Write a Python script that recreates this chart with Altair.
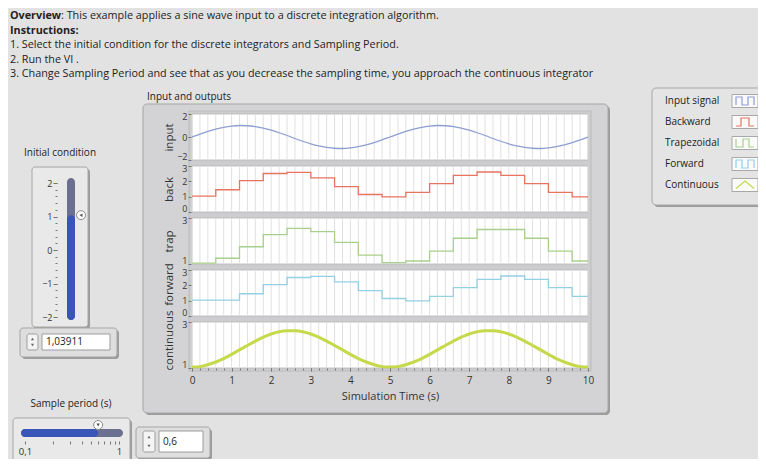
import altair as alt
import pandas as pd

# ---------------- data ----------------
t_fine = [0.0, 0.2, 0.4, 0.6, 0.8, 1.0, 1.2, 1.4, 1.6, 1.8, 2.0, 2.2, 2.4, 2.6, 2.8,
          3.0, 3.2, 3.4, 3.6, 3.8, 4.0, 4.2, 4.4, 4.6, 4.8, 5.0, 5.2, 5.4, 5.6, 5.8,
          6.0, 6.2, 6.4, 6.6, 6.8, 7.0, 7.2, 7.4, 7.6, 7.8, 8.0, 8.2, 8.4, 8.6, 8.8,
          9.0, 9.2, 9.4, 9.6, 9.8, 10.0]
input_signal = [0.0, 0.25, 0.48, 0.68, 0.84, 0.95, 1.0, 0.98, 0.9, 0.77, 0.59, 0.37, 0.13,
                -0.13, -0.37, -0.59, -0.77, -0.9, -0.98, -1.0, -0.95, -0.84, -0.68, -0.48, -0.25,
                0.0, 0.25, 0.48, 0.68, 0.84, 0.95, 1.0, 0.98, 0.9, 0.77, 0.59, 0.37, 0.13,
                -0.13, -0.37, -0.59, -0.77, -0.9, -0.98, -1.0, -0.95, -0.84, -0.68, -0.48, -0.25, 0.0]
continuous = [1.04, 1.06, 1.14, 1.26, 1.41, 1.59, 1.79, 1.98, 2.17, 2.34, 2.48, 2.58, 2.62,
              2.62, 2.58, 2.48, 2.34, 2.17, 1.98, 1.79, 1.59, 1.41, 1.26, 1.14, 1.06,
              1.04, 1.06, 1.14, 1.26, 1.41, 1.59, 1.79, 1.98, 2.17, 2.34, 2.48, 2.58, 2.62,
              2.62, 2.58, 2.48, 2.34, 2.17, 1.98, 1.79, 1.59, 1.41, 1.26, 1.14, 1.06, 1.04]
t_step = [0.0, 0.6, 1.2, 1.8, 2.4, 3.0, 3.6, 4.2, 4.8, 5.4, 6.0, 6.6, 7.2, 7.8, 8.4, 9.0, 9.6, 10.0]
backward = [1.04, 1.45, 2.05, 2.51, 2.59, 2.23, 1.65, 1.14, 0.99, 1.28, 1.85, 2.39, 2.61, 2.39, 1.85, 1.28, 0.99, 0.99]
trapezoidal = [1.04, 1.25, 1.75, 2.28, 2.55, 2.41, 1.94, 1.39, 1.06, 1.13, 1.56, 2.12, 2.50, 2.50, 2.12, 1.56, 1.13, 1.13]
forward = [1.04, 1.04, 1.45, 2.05, 2.51, 2.59, 2.23, 1.65, 1.14, 0.99, 1.28, 1.85, 2.39, 2.61, 2.39, 1.85, 1.28, 1.28]
x_ticks = [0, 1, 2, 3, 4, 5, 6, 7, 8, 9, 10]
init_condition = 1.03911
sample_period = 0.6
legend_names = ["Input signal", "Backward", "Trapezoidal", "Forward", "Continuous"]
legend_colors = ["#8d9ed3", "#e8735f", "#a9cf8c", "#93d0e3", "#c5d94a"]

FONT = "Open Sans"
W, H = 750, 451


def P(v):
    return v - 8


one = pd.DataFrame({"k": [0]})
layers = []


def rect(x1, y1, x2, y2, **kw):
    return alt.Chart(one).mark_rect(**kw).encode(
        x=alt.value(P(x1)), x2=alt.value(P(x2)), y=alt.value(P(y1)), y2=alt.value(P(y2)))


def text(s, x, y, **kw):
    st = dict(font=FONT, fontSize=10, color="#222", align="left", baseline="middle")
    st.update(kw)
    return alt.Chart(one).mark_text(text=s, **st).encode(x=alt.value(P(x)), y=alt.value(P(y)))


def framed(x1, y1, x2, y2, fill, r=3):
    return [rect(x1 + 2, y1 + 2, x2 + 2, y2 + 2, fill="#9c9c9c", cornerRadius=r),
            rect(x1, y1, x2, y2, fill=fill, stroke="#a6a6a6", strokeWidth=1, cornerRadius=r)]


# ---------------- header text ----------------
HF = 10.8
layers += [
    text("Overview", 10, 16, fontWeight="bold", fontSize=HF),
    text(": This example applies a sine wave input to a discrete integration algorithm.", 61, 16, fontSize=HF),
    text("Instructions:", 10, 30.5, fontWeight="bold", fontSize=HF),
    text("1. Select the initial condition for the discrete integrators and Sampling Period.", 10, 45, fontSize=HF),
    text("2. Run the VI .", 10, 59.5, fontSize=HF),
    text("3. Change Sampling Period and see that as you decrease the sampling time, you approach the continuous integrator", 10, 74, fontSize=HF),
]

# ---------------- graph frame ----------------
layers += framed(143, 104, 608, 413, "#d3d3d5", r=4)
layers.append(text("Input and outputs", 147, 97))
layers.append(rect(189, 111, 591, 371, fill="#cdcdd0", stroke="#bcbcbc", strokeWidth=1))

xs = alt.Scale(domain=[0, 10], range=[P(192), P(588)], nice=False, zero=False)
PH = 46
AXIS_X = 191
panels = [
    ("input", t_fine, input_signal, [-2, 2], [-2, 0, 2], 114, 137, legend_colors[0], "monotone", 1.3),
    ("back", t_step, backward, [0, 3], [0, 1, 2, 3], 166, 189, legend_colors[1], "step-after", 1.3),
    ("trap", t_step, trapezoidal, [1, 3], [1, 2, 3], 218, 241, legend_colors[2], "step-after", 1.3),
    ("forward", t_step, forward, [0, 3], [0, 1, 2, 3], 270, 284, legend_colors[3], "step-after", 1.3),
    ("continuous", t_fine, continuous, [1, 3], [1, 2, 3], 322, 340, legend_colors[4], "monotone", 3),
]
for name, tt, vv, dom, ticks, top, title_y, col, interp, sw in panels:
    ys = alt.Scale(domain=dom, range=[P(top + PH), P(top)], nice=False, zero=False)
    yaxis = alt.Axis(orient="left", offset=-P(AXIS_X), values=ticks, title=name, tickSize=3, format="d",
                     labelFontSize=9, titleFontSize=11.5, titleFontWeight="normal",
                     titleX=-17, titleY=P(title_y), titleAngle=270, titleBaseline="bottom", titleAlign="center",
                     labelPadding=1, domain=False, grid=False, labelOverlap=False, labelFlush=True,
                     labelFlushOffset=1.5, zindex=2)
    layers.append(alt.Chart(one).mark_rect(fill="white", stroke="#b4b4b4", strokeWidth=0.8).encode(
        x=alt.XDatum(0, type="quantitative", scale=xs, axis=None), x2=alt.X2Datum(10),
        y=alt.YDatum(dom[0], type="quantitative", scale=ys, axis=yaxis), y2=alt.Y2Datum(dom[1])))
    layers.append(alt.Chart(alt.sequence(0, 10.05, 0.2, as_="g")).mark_rule(color="#e1e1e1", strokeWidth=1).encode(
        x=alt.X("g:Q", scale=xs, axis=None),
        y=alt.YDatum(dom[0], type="quantitative", scale=ys, axis=None), y2=alt.Y2Datum(dom[1])))
    df = pd.DataFrame({"t": tt, "v": vv})
    layers.append(alt.Chart(df).mark_line(color=col, strokeWidth=sw, interpolate=interp).encode(
        x=alt.X("t:Q", scale=xs, axis=None), y=alt.Y("v:Q", scale=ys, axis=None)))

x_off = P(368) - H
layers.append(alt.Chart(one).mark_point(opacity=0).encode(
    x=alt.XDatum(0, type="quantitative", scale=xs,
                 axis=alt.Axis(orient="bottom", offset=x_off, values=x_ticks, title="Simulation Time (s)",
                               tickSize=3, labelFontSize=10, titleFontSize=11, titleFontWeight="normal",
                               titlePadding=5, labelPadding=4, domain=False, grid=False, labelFlush=False,
                               format="d", zindex=2)),
    y=alt.value(0)))
layers.append(alt.Chart(one).mark_point(opacity=0).encode(
    x=alt.XDatum(0, type="quantitative", scale=xs,
                 axis=alt.Axis(orient="bottom", offset=x_off, values=[v / 5 for v in range(51)],
                               title=None, labels=False, tickSize=2, domain=False, grid=False, zindex=2)),
    y=alt.value(0)))

# ---------------- initial condition slider ----------------
layers.append(text("Initial condition", 60, 153, align="center"))
layers += framed(32, 167, 88, 327, "#e9e9e9")
layers.append(rect(67, 178, 75, 320, fill="#6c7090", cornerRadius=4))
sl_y = alt.Scale(domain=[-2, 2], range=[P(317), P(183)], nice=False, zero=False)
layers.append(alt.Chart(one).mark_rect(fill="#3a55b8", cornerRadius=4).encode(
    x=alt.value(P(67)), x2=alt.value(P(75)),
    y=alt.YDatum(init_condition, type="quantitative", scale=sl_y,
                 axis=alt.Axis(orient="left", offset=-P(57), values=[-2, -1, 0, 1, 2], title=None,
                               tickSize=4, labelFontSize=9, labelPadding=1, domain=False, grid=False,
                               format="d", zindex=2)),
    y2=alt.value(P(320))))
layers.append(alt.Chart(one).mark_point(opacity=0).encode(
    x=alt.value(0),
    y=alt.YDatum(0, type="quantitative", scale=sl_y,
                 axis=alt.Axis(orient="left", offset=-P(57), values=[v / 5 - 2 for v in range(21)],
                               title=None, labels=False, tickSize=2, domain=False, grid=False, zindex=2))))
layers.append(alt.Chart(one).mark_point(shape="circle", filled=True, fill="white", stroke="#8a8a8a",
                                         strokeWidth=1, size=80, opacity=1).encode(
    x=alt.value(P(81)), y=alt.YDatum(init_condition, type="quantitative", scale=sl_y, axis=None)))
layers.append(alt.Chart(one).mark_point(shape="triangle-left", filled=True, color="#555", size=12, opacity=1).encode(
    x=alt.value(P(81)), y=alt.YDatum(init_condition, type="quantitative", scale=sl_y, axis=None)))

# numeric control 1
layers += framed(20, 328, 117, 357, "#dedede")
layers.append(rect(27, 334, 38, 350, fill="#f4f4f4", stroke="#9d9d9d", strokeWidth=1, cornerRadius=2))
layers.append(alt.Chart(one).mark_point(shape="triangle-up", filled=True, color="#666", size=10, opacity=1).encode(
    x=alt.value(P(32.5)), y=alt.value(P(339))))
layers.append(alt.Chart(one).mark_point(shape="triangle-down", filled=True, color="#666", size=10, opacity=1).encode(
    x=alt.value(P(32.5)), y=alt.value(P(345))))
layers.append(rect(42, 334, 110, 350, fill="white", stroke="#9d9d9d", strokeWidth=1))
layers.append(text(f"{init_condition:.5f}".replace(".", ","), 46, 342))

# ---------------- sample period slider ----------------
layers.append(text("Sample period (s)", 71, 404, align="center"))
layers += framed(13, 418, 130, 463, "#e9e9e9")
layers.append(rect(21, 429, 123, 437, fill="#6c7090", cornerRadius=4))
sp_x = alt.Scale(type="log", domain=[0.1, 1], range=[P(25), P(119)], nice=False)
sp_off = P(441) - H
layers.append(alt.Chart(one).mark_rect(fill="#3a55b8", cornerRadius=4).encode(
    x=alt.XDatum(sample_period, type="quantitative", scale=sp_x,
                 axis=alt.Axis(orient="bottom", offset=sp_off, values=[0.1, 1], title=None,
                               labelExpr="replace(format(datum.value, '.1~f'), '.', ',')",
                               tickSize=3, labelFontSize=9.5, labelPadding=2, domain=False, grid=False,
                               labelFlush=False, zindex=2)),
    x2=alt.value(P(21)), y=alt.value(P(429)), y2=alt.value(P(437))))
layers.append(alt.Chart(one).mark_point(opacity=0).encode(
    x=alt.XDatum(0.5, type="quantitative", scale=sp_x,
                 axis=alt.Axis(orient="bottom", offset=sp_off, values=[0.2, 0.3, 0.4, 0.5, 0.6, 0.7, 0.8, 0.9],
                               title=None, labels=False, tickSize=3, domain=False, grid=False, zindex=2)),
    y=alt.value(0)))
layers.append(alt.Chart(one).mark_point(shape="circle", filled=True, fill="white", stroke="#8a8a8a",
                                         strokeWidth=1, size=80, opacity=1).encode(
    x=alt.XDatum(sample_period, type="quantitative", scale=sp_x, axis=None), y=alt.value(P(425))))
layers.append(alt.Chart(one).mark_point(shape="triangle-down", filled=True, color="#555", size=12, opacity=1).encode(
    x=alt.XDatum(sample_period, type="quantitative", scale=sp_x, axis=None), y=alt.value(P(425))))

# numeric control 2
layers += framed(136, 427, 210, 458, "#dedede")
layers.append(rect(143, 431, 155, 452, fill="#f4f4f4", stroke="#9d9d9d", strokeWidth=1, cornerRadius=2))
layers.append(alt.Chart(one).mark_point(shape="triangle-up", filled=True, color="#666", size=10, opacity=1).encode(
    x=alt.value(P(149)), y=alt.value(P(437))))
layers.append(alt.Chart(one).mark_point(shape="triangle-down", filled=True, color="#666", size=10, opacity=1).encode(
    x=alt.value(P(149)), y=alt.value(P(446))))
layers.append(rect(159, 431, 203, 452, fill="white", stroke="#9d9d9d", strokeWidth=1))
layers.append(text(f"{sample_period:g}".replace(".", ","), 163, 442))

# ---------------- legend ----------------
layers += framed(652, 88, 770, 205, "#e4e4e4", r=4)
leg_df = pd.DataFrame({"name": legend_names})
leg_y = alt.Scale(type="point", domain=legend_names, range=[P(101), P(185)], padding=0)
glyphs = ["M-0.9,0.4V-0.4H-0.3V0.4H0.3V-0.4H0.9V0.4",
          "M-0.9,0.4H-0.4V-0.4H0.4V0.4H0.9",
          "M-0.9,-0.4V0.4H-0.2V-0.4H0.4V0.4H0.9",
          "M-0.9,0.4V-0.4H-0.3V0.4H0.3V-0.4H0.9V0.4",
          "M-0.9,0.35L0,-0.4L0.9,0.35"]
layers.append(alt.Chart(leg_df).mark_text(font=FONT, fontSize=10, color="#222", align="left", baseline="middle").encode(
    x=alt.value(P(665)), y=alt.Y("name:N", scale=leg_y, axis=None), text="name:N"))
layers.append(alt.Chart(leg_df).mark_point(shape="M-1,-0.5H1V0.5H-1Z", filled=True, fill="#fafafa",
                                            stroke="#a8a8a8", strokeWidth=1, size=676, opacity=1).encode(
    x=alt.value(P(745)), y=alt.Y("name:N", scale=leg_y, axis=None)))
layers.append(alt.Chart(leg_df).mark_point(filled=False, size=400, opacity=1).encode(
    x=alt.value(P(745)), y=alt.Y("name:N", scale=leg_y, axis=None),
    shape=alt.Shape("name:N", scale=alt.Scale(domain=legend_names, range=glyphs), legend=None),
    color=alt.Color("name:N", scale=alt.Scale(domain=legend_names, range=legend_colors), legend=None),
    strokeWidth=alt.StrokeWidth("name:N", scale=alt.Scale(domain=legend_names, range=[1.2, 1.2, 1.2, 1.2, 2.6]), legend=None)))

chart = alt.layer(*layers).resolve_scale(
    x="independent", y="independent", color="independent", shape="independent", strokeWidth="independent"
).properties(
    width=W, height=H, padding=0, autosize=alt.AutoSizeParams(type="none"), background="#e2e2e2"
).configure_view(stroke=None).configure_axis(
    labelFont=FONT, titleFont=FONT, labelColor="#333", titleColor="#333", tickColor="#777"
)

chart.save("out.html", embed_options={"renderer": "svg", "actions": False})
